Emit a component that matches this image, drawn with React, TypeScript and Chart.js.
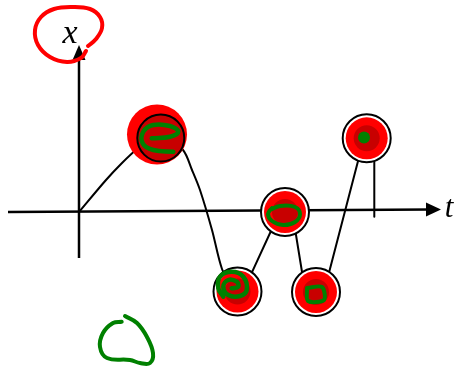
import { useEffect, useRef } from "react";
import { Chart, registerables } from "chart.js";

Chart.register(...registerables);

// ---- data (t = horizontal, x = vertical) ----
const T_MIN = -7.9;
const T_MAX = 37.5;
const X_MIN = -15.7;
const X_MAX = 21.2;

const tAxisT = [-7.1, 36.2];
const tAxisX = [0, 0.25];
const xAxisT = [0, 0];
const xAxisX = [-4.6, 16.7];
const axisNames = ["x", "t"];
const labelT = [-0.9, 37.0];
const labelX = [17.75, 0.35];

const curveT = [0, 2.7, 4.3, 5.8, 8.0, 10.4, 11.3, 12.1, 13.3, 14.3, 15.5];
const curveX = [0, 3.2, 4.9, 6.3, 8.0, 6.2, 4.2, 2.2, -1.8, -5.7, -8.0];

const seg45T = [17.05, 19.52];
const seg45X = [-6.57, -1.2];
const seg56T = [21.53, 22.44];
const seg56X = [-1.25, -6.85];
const seg67T = [24.68, 28.19];
const seg67X = [-7.3, 6.2];
const stemT = [29.53, 29.53];
const stemX = [6.2, -0.47];

const bigHaloT = [7.8];
const bigHaloX = [7.75];
const bigRingT = [8.18];
const bigRingX = [7.4];
const dotT = [15.85, 20.6, 23.7, 28.77];
const dotX = [-7.95, 0, -8.0, 7.37];

const scribble1T = [7.27, 9.1, 9.93, 9.1, 7.43, 6.43, 6.37, 7.43, 9.43];
const scribble1X = [7.37, 7.53, 8.03, 8.6, 8.7, 8.03, 6.87, 6.2, 6.03];
const scribble4T = [15.27, 15.93, 15.77, 14.93, 14.43, 14.93, 16.1, 16.77, 16.43, 15.27, 14.1, 13.93, 14.43];
const scribble4X = [-7.63, -7.47, -6.97, -6.8, -7.47, -8.3, -8.4, -7.8, -6.47, -5.97, -6.47, -7.63, -8.47];
const scribble5T = [19.1, 20.1, 21.6, 22.1, 21.6, 20.4, 19.3, 18.9, 19.3];
const scribble5X = [0.2, 0.6, 0.5, -0.2, -1.0, -1.3, -0.9, -0.2, 0.4];
const scribble6T = [22.8, 24.3, 24.5, 22.9, 22.8];
const scribble6X = [-7.6, -7.5, -8.8, -8.9, -7.6];
const blob7T = [28.5];
const blob7X = [7.45];

const loopT = [4.27, 3.4, 2.4, 2.1, 2.8, 5.1, 6.1, 7.1, 7.4, 6.8, 5.8, 4.6];
const loopX = [-10.97, -11.1, -12.1, -13.5, -14.6, -14.8, -15.1, -15.1, -14.1, -12.5, -11.1, -10.4];

const ringT = [0.9, 1.7, 2.3, 2.1, 1.1, -0.7, -2.5, -3.8, -4.4, -4.1, -2.9, -1.2, 0.2, 0.7];
const ringX = [16.6, 17.3, 18.4, 19.5, 20.3, 20.5, 20.3, 19.5, 18.2, 16.7, 15.5, 15.0, 15.4, 16.1];

const pts = (ts: number[], xs: number[]) => ts.map((t, i) => ({ x: t, y: xs[i] }));

const BLACK = "#000000";
const RED = "#ff0000";
const DARK_RED = "#c80000";
const GREEN = "#008000";

export default function App() {
  const ref = useRef<HTMLCanvasElement | null>(null);

  useEffect(() => {
    if (!ref.current) return;

    const line = (ts: number[], xs: number[], color: string, width: number, tension = 0) => ({
      data: pts(ts, xs),
      showLine: true,
      borderColor: color,
      borderWidth: width,
      tension,
      pointRadius: 0,
      pointHoverRadius: 0,
      fill: false,
      borderCapStyle: "round",
      borderJoinStyle: "round",
    });
    const dots = (ts: number[], xs: number[], r: number, bg: string, bc: string, bw: number) => ({
      data: pts(ts, xs),
      showLine: false,
      pointRadius: r,
      pointHoverRadius: r,
      pointBackgroundColor: bg,
      pointBorderColor: bc,
      pointBorderWidth: bw,
      pointHoverBorderWidth: bw,
    });

    const layers: any[] = [
      line(curveT, curveX, BLACK, 2, 0.3),
      line(seg45T, seg45X, BLACK, 2),
      line(seg56T, seg56X, BLACK, 2),
      line(seg67T, seg67X, BLACK, 2),
      line(stemT, stemX, BLACK, 2),
      dots(bigHaloT, bigHaloX, 30, RED, RED, 0),
      dots(bigRingT, bigRingX, 23.5, DARK_RED, BLACK, 2),
      dots(dotT, dotX, 24, "#ffffff", BLACK, 2),
      dots(dotT, dotX, 21, RED, RED, 0),
      dots(dotT, dotX, 13, DARK_RED, DARK_RED, 0),
      line(scribble1T, scribble1X, GREEN, 4.5, 0.4),
      line(scribble4T, scribble4X, GREEN, 4.5, 0.4),
      line(scribble5T, scribble5X, GREEN, 4, 0.4),
      line(scribble6T, scribble6X, GREEN, 4, 0.3),
      dots(blob7T, blob7X, 6, GREEN, GREEN, 0),
      line(loopT, loopX, GREEN, 4, 0.4),
      line(ringT, ringX, RED, 4, 0.4),
    ];
    const n = layers.length;
    layers.forEach((d, i) => (d.order = n - i));

    const axesPlugin = {
      id: "handAxes",
      beforeDatasetsDraw(chart: any) {
        const { ctx, scales } = chart;
        const sx = scales.x;
        const sy = scales.y;
        const P = (t: number, x: number) => [sx.getPixelForValue(t), sy.getPixelForValue(x)];
        ctx.save();
        ctx.strokeStyle = BLACK;
        ctx.fillStyle = BLACK;
        ctx.lineWidth = 2.5;
        // horizontal axis
        const [h0x, h0y] = P(tAxisT[0], tAxisX[0]);
        const [h1x, h1y] = P(tAxisT[1], tAxisX[1]);
        ctx.beginPath();
        ctx.moveTo(h0x, h0y);
        ctx.lineTo(h1x - 10, h1y);
        ctx.stroke();
        ctx.beginPath();
        ctx.moveTo(h1x, h1y);
        ctx.lineTo(h1x - 15, h1y - 7);
        ctx.lineTo(h1x - 15, h1y + 7);
        ctx.closePath();
        ctx.fill();
        // vertical axis
        const [v0x, v0y] = P(xAxisT[0], xAxisX[0]);
        const [v1x, v1y] = P(xAxisT[1], xAxisX[1]);
        ctx.beginPath();
        ctx.moveTo(v0x, v0y);
        ctx.lineTo(v1x, v1y + 10);
        ctx.stroke();
        ctx.beginPath();
        ctx.moveTo(v1x, v1y);
        ctx.lineTo(v1x - 6.5, v1y + 15);
        ctx.lineTo(v1x + 6.5, v1y + 15);
        ctx.closePath();
        ctx.fill();
        // labels
        ctx.textAlign = "center";
        ctx.textBaseline = "middle";
        ctx.font = 'italic 34px "Liberation Serif", "Times New Roman", serif';
        const [lx0, ly0] = P(labelT[0], labelX[0]);
        ctx.fillText(axisNames[0], lx0, ly0);
        ctx.font = 'italic 31px "Liberation Serif", "Times New Roman", serif';
        const [lx1, ly1] = P(labelT[1], labelX[1]);
        ctx.fillText(axisNames[1], lx1, ly1);
        ctx.restore();
      },
    };

    const chart = new Chart(ref.current, {
      type: "line",
      data: { datasets: layers },
      options: {
        animation: false,
        responsive: false,
        devicePixelRatio: 1,
        events: [],
        layout: { padding: 0, autoPadding: false },
        plugins: { legend: { display: false }, tooltip: { enabled: false } },
        scales: {
          x: { type: "linear", min: T_MIN, max: T_MAX, display: false },
          y: { type: "linear", min: X_MIN, max: X_MAX, display: false },
        },
      },
      plugins: [axesPlugin],
    } as any);

    return () => chart.destroy();
  }, []);

  return (
    <div style={{ position: "fixed", left: 0, top: 0, width: 454, height: 369, background: "#ffffff" }}>
      <canvas ref={ref} width={454} height={369} />
    </div>
  );
}
